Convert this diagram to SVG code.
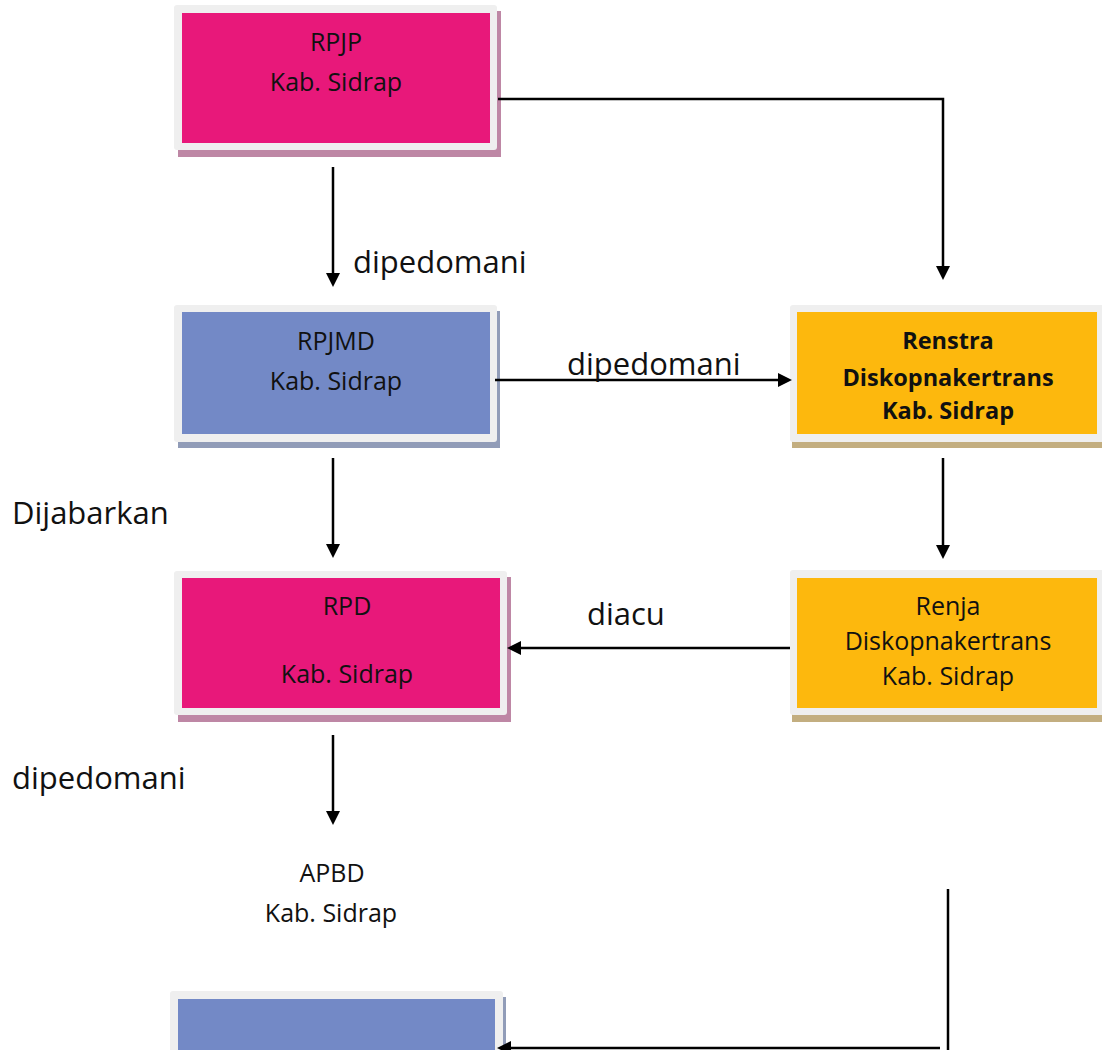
<svg xmlns="http://www.w3.org/2000/svg" width="1102" height="1050" viewBox="0 0 1102 1050">
<defs>
<style>
.frame{fill:#EFEFEF;}
.pink{fill:#E8187A;}
.blue{fill:#7389C6;}
.orange{fill:#FDB80D;}
.shp{fill:#BE87A5;}
.shb{fill:#919CB8;}
.sho{fill:#C3AE80;}
.bt{font-family:"Open Sans","Noto Sans",sans-serif;font-size:25px;fill:#111;text-anchor:middle;}
.bb{font-weight:bold;font-size:23.5px;}
.lbl{font-family:"Open Sans","Noto Sans",sans-serif;font-size:31px;fill:#111;}
.con{stroke:#000;stroke-width:2.5;fill:none;}
</style>
<marker id="ah" markerUnits="userSpaceOnUse" markerWidth="14" markerHeight="14" refX="1" refY="7" orient="auto" viewBox="0 0 14 14">
<path d="M0,0 L14,7 L0,14 z" fill="#000"/>
</marker>
</defs>
<rect width="1102" height="1050" fill="#fff"/>

<g id="rpjp">
<rect class="shp" x="178" y="11" width="323" height="146"/>
<rect class="frame" x="174" y="5" width="323" height="145" rx="3"/>
<rect class="pink" x="182" y="13" width="308" height="130"/>
<text class="bt" x="336" y="51">RPJP</text>
<text class="bt" x="336" y="91">Kab. Sidrap</text>
</g>

<g id="rpjmd">
<rect class="shb" x="178" y="311" width="322" height="137"/>
<rect class="frame" x="174" y="305" width="323" height="137" rx="3"/>
<rect class="blue" x="182" y="312" width="308" height="122"/>
<text class="bt" x="336" y="350">RPJMD</text>
<text class="bt" x="336" y="390">Kab. Sidrap</text>
</g>

<g id="renstra">
<rect class="sho" x="792" y="311" width="320" height="137"/>
<rect class="frame" x="790" y="305" width="320" height="137" rx="3"/>
<rect class="orange" x="797" y="312" width="300" height="122"/>
<text class="bt bb" x="948" y="349">Renstra</text>
<text class="bt bb" x="948" y="386">Diskopnakertrans</text>
<text class="bt bb" x="948" y="419">Kab. Sidrap</text>
</g>

<g id="rpd">
<rect class="shp" x="178" y="577" width="333" height="145"/>
<rect class="frame" x="174" y="571" width="333" height="144" rx="3"/>
<rect class="pink" x="182" y="578" width="318" height="130"/>
<text class="bt" x="347" y="615">RPD</text>
<text class="bt" x="347" y="683">Kab. Sidrap</text>
</g>

<g id="renja">
<rect class="sho" x="792" y="576" width="320" height="146"/>
<rect class="frame" x="790" y="570" width="320" height="145" rx="3"/>
<rect class="orange" x="797" y="578" width="300" height="130"/>
<text class="bt" x="948" y="615">Renja</text>
<text class="bt" x="948" y="650">Diskopnakertrans</text>
<text class="bt" x="948" y="685">Kab. Sidrap</text>
</g>

<g id="apbd">
<text class="bt" x="332" y="882">APBD</text>
<text class="bt" x="331" y="922">Kab. Sidrap</text>
</g>

<g id="bottom-box">
<rect class="shb" x="174" y="997" width="332" height="60"/>
<rect class="frame" x="170" y="991" width="333" height="70" rx="3"/>
<rect class="blue" x="178" y="999" width="317" height="60"/>
</g>

<g id="connectors">
<line class="con" x1="333" y1="167" x2="333" y2="274" marker-end="url(#ah)"/>
<polyline class="con" points="498,99 943,99 943,267" marker-end="url(#ah)"/>
<line class="con" x1="495" y1="380" x2="779" y2="380" marker-end="url(#ah)"/>
<line class="con" x1="333" y1="458" x2="333" y2="545" marker-end="url(#ah)"/>
<line class="con" x1="943" y1="458" x2="943" y2="546" marker-end="url(#ah)"/>
<line class="con" x1="790" y1="648" x2="520" y2="648" marker-end="url(#ah)"/>
<line class="con" x1="333" y1="735" x2="333" y2="812" marker-end="url(#ah)"/>
<line class="con" x1="948" y1="889" x2="948" y2="1050"/>
<line class="con" x1="940" y1="1048" x2="510" y2="1048" marker-end="url(#ah)"/>
</g>

<g id="labels">
<text class="lbl" x="353" y="273">dipedomani</text>
<text class="lbl" x="567" y="375">dipedomani</text>
<text class="lbl" x="12" y="524">Dijabarkan</text>
<text class="lbl" x="587" y="625">diacu</text>
<text class="lbl" x="12" y="789">dipedomani</text>
</g>
</svg>
